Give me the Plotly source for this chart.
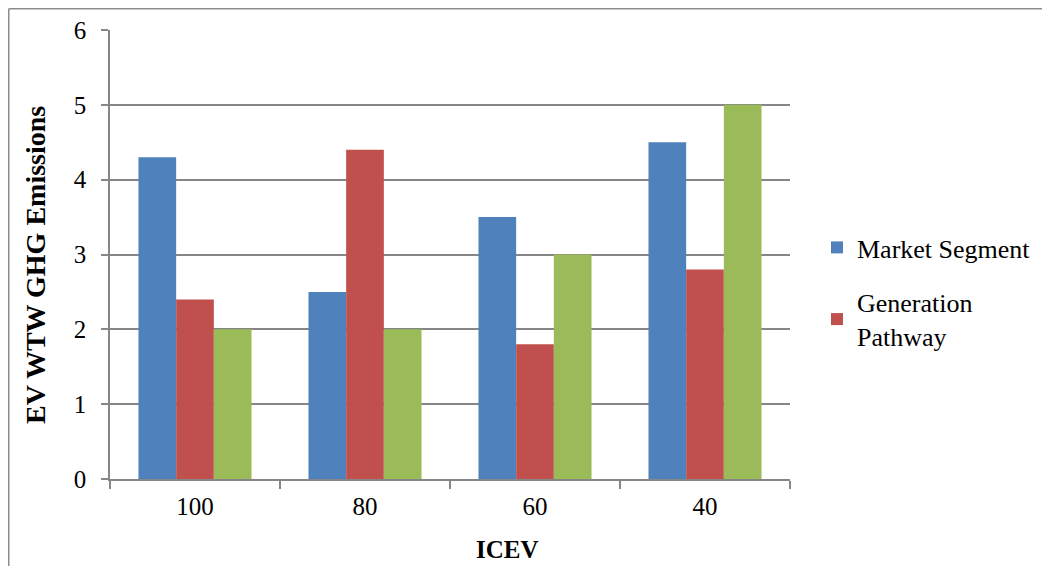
import plotly.graph_objects as go

categories = ["100", "80", "60", "40"]
market_segment = [4.3, 2.5, 3.5, 4.5]
generation_pathway = [2.4, 4.4, 1.8, 2.8]
third_series = [2.0, 2.0, 3.0, 5.0]

GRAY = "#868686"
FONT = "Liberation Serif"

# page offset caused by default body margin
OFF = 8
W, H = 1050 - OFF, 566 - OFF
L, R, T, B = 110 - OFF, 790 - OFF, 30 - OFF, 479 - OFF


def px_x(p):  # p in page pixels
    return (p - OFF - L) / (R - L)


def px_y(p):
    return (B - (p - OFF)) / (B - T)


fig = go.Figure()
fig.add_trace(go.Bar(x=categories, y=market_segment, name="Market Segment", legendgroup="a",
                     marker=dict(color="#4F81BD", line=dict(width=0))))
fig.add_trace(go.Bar(x=categories, y=generation_pathway, name="Generation<br>Pathway", legendgroup="b",
                     marker=dict(color="#C0504D", line=dict(width=0))))
fig.add_trace(go.Bar(x=categories, y=third_series, name="Series 3", showlegend=False, legendgroup="c",
                     marker=dict(color="#9BBB59", line=dict(width=0))))

fig.update_layout(
    width=W, height=H,
    margin=dict(l=L, r=W - R, t=T, b=H - B, autoexpand=False),
    paper_bgcolor="white", plot_bgcolor="white",
    barmode="group", bargap=0.335, bargroupgap=0,
    font=dict(family=FONT, size=24, color="black"),
    legend=dict(x=px_x(817), y=px_y(224), xanchor="left", yanchor="top",
                font=dict(family=FONT, size=26, color="black"),
                bgcolor="rgba(0,0,0,0)", itemwidth=30,
                traceorder="grouped", tracegroupgap=18),
    xaxis=dict(type="category", showline=True, linecolor=GRAY, linewidth=1.5,
               ticks="outside", tickson="boundaries", ticklen=8, tickcolor=GRAY, tickwidth=1.5,
               tickfont=dict(family=FONT, size=25, color="black"), ticklabelstandoff=4,
               showgrid=False),
    yaxis=dict(range=[0, 6], dtick=1, showline=True, linecolor=GRAY, linewidth=1.5,
               ticks="outside", ticklen=7, tickcolor=GRAY, tickwidth=1.5,
               showgrid=True, gridcolor=GRAY, gridwidth=1.5, zeroline=False,
               tickfont=dict(family=FONT, size=25, color="black"), ticklabelstandoff=10),
)

fig.add_annotation(text="<b>EV WTW GHG Emissions</b>", xref="paper", yref="paper",
                   x=px_x(35), y=px_y(265), textangle=-90, showarrow=False,
                   xanchor="center", yanchor="middle",
                   font=dict(family=FONT, size=28, color="black"))
fig.add_annotation(text="<b>ICEV</b>", xref="paper", yref="paper",
                   x=px_x(507), y=px_y(549), showarrow=False,
                   xanchor="center", yanchor="middle",
                   font=dict(family=FONT, size=25, color="black"))

# outer chart border (left and top edges visible)
fig.add_shape(type="line", xref="paper", yref="paper",
              x0=px_x(8.75), x1=px_x(8.75), y0=px_y(700), y1=px_y(8.75),
              line=dict(color="#8c8c8c", width=1.5), layer="above")
fig.add_shape(type="line", xref="paper", yref="paper",
              x0=px_x(8.75), x1=px_x(1200), y0=px_y(8.75), y1=px_y(8.75),
              line=dict(color="#8c8c8c", width=1.5), layer="above")

fig.write_html("out.html")
